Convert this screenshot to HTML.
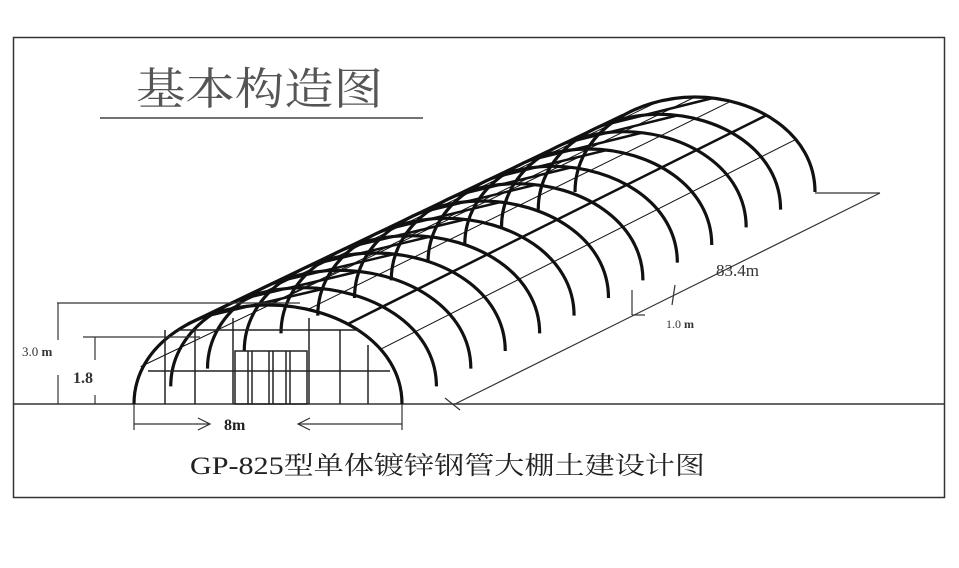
<!DOCTYPE html>
<html><head><meta charset="utf-8"><style>
body{margin:0;background:#fff;width:959px;height:568px;overflow:hidden}
svg{display:block}
text{font-family:"Liberation Serif","Noto Serif CJK SC",serif}
</style></head><body>
<svg id="s" width="959" height="568" viewBox="0 0 959 568" xmlns="http://www.w3.org/2000/svg">
<rect x="13.5" y="37.5" width="931" height="460" fill="none" stroke="#333" stroke-width="1.5"/>
<text x="136" y="104" font-size="44" fill="#555" textLength="247" lengthAdjust="spacingAndGlyphs">基本构造图</text>
<line x1="100" y1="118" x2="423" y2="118" stroke="#444" stroke-width="1.5"/>
<line x1="14" y1="404" x2="944" y2="404" stroke="#333" stroke-width="1.5"/>
<g id="g" fill="none" stroke="#111"></g>
<g stroke="#222" stroke-width="1.5" fill="none">
<line x1="178" y1="330" x2="360" y2="330"/>
<line x1="148" y1="371" x2="390" y2="371"/>
<line x1="165" y1="330" x2="165" y2="404"/>
<line x1="195" y1="330" x2="195" y2="404"/>
<line x1="233" y1="318" x2="233" y2="404"/>
<line x1="309" y1="318" x2="309" y2="404"/>
<line x1="340" y1="330" x2="340" y2="404"/>
<line x1="368" y1="345" x2="368" y2="404"/>
<rect x="235" y="351" width="72" height="53"/>
<line x1="248" y1="351" x2="248" y2="404"/><line x1="252" y1="351" x2="252" y2="404"/>
<line x1="269" y1="351" x2="269" y2="404"/><line x1="273" y1="351" x2="273" y2="404"/>
<line x1="286" y1="351" x2="286" y2="404"/><line x1="290" y1="351" x2="290" y2="404"/>
</g>
<g stroke="#333" stroke-width="1.2" fill="none">
<line x1="57" y1="303" x2="300" y2="303"/>
<line x1="58" y1="303" x2="58" y2="340"/><line x1="58" y1="375" x2="58" y2="404"/>
<line x1="83" y1="337" x2="200" y2="337"/>
<line x1="95" y1="337" x2="95" y2="360"/><line x1="95" y1="395" x2="95" y2="404"/>
<line x1="134" y1="404" x2="134" y2="430"/><line x1="402" y1="404" x2="402" y2="430"/>
<line x1="134" y1="424" x2="210" y2="424"/><polyline points="198,418 210,424 198,430"/>
<line x1="298" y1="424" x2="402" y2="424"/><polyline points="310,418 298,424 310,430"/>
<line x1="455" y1="404" x2="880" y2="193"/>
<line x1="815" y1="193" x2="880" y2="193"/>
<line x1="445" y1="398" x2="460" y2="410"/>
<line x1="632" y1="290" x2="632" y2="315"/><line x1="632" y1="315" x2="645" y2="315"/>
<line x1="675" y1="285" x2="672" y2="305"/>
</g>
<text x="22" y="356" font-size="13" fill="#333" font-family="Liberation Sans">3.0 <tspan font-weight="bold">m</tspan></text>
<text x="73" y="383" font-size="16" font-weight="bold" fill="#333">1.8</text>
<text x="224" y="430" font-size="16" font-weight="bold" fill="#222">8m</text>
<text x="716" y="276" font-size="17" fill="#333">83.4m</text>
<text x="666" y="328" font-size="12" fill="#333" font-family="Liberation Sans">1.0 <tspan font-weight="bold">m</tspan></text>
<text x="190" y="474" font-size="25" fill="#222" textLength="515" lengthAdjust="spacingAndGlyphs">GP-825型单体镀锌钢管大棚土建设计图</text>
</svg>
<script>
var g=document.getElementById('g'),h='';
function P(t){return {cx:268+427*t,b:404-212*t,w:134-14*t,h:99-4*t};}
function arch(a){return 'M'+(a.cx-a.w)+','+a.b+' C'+(a.cx-a.w)+','+(a.b-a.h*0.62)+' '+(a.cx-a.w*0.5)+','+(a.b-a.h)+' '+a.cx+','+(a.b-a.h)+' C'+(a.cx+a.w*0.5)+','+(a.b-a.h)+' '+(a.cx+a.w)+','+(a.b-a.h*0.62)+' '+(a.cx+a.w)+','+a.b;}
for(var i=0;i<=12;i++){var a=P(i/12);h+='<path d="'+arch(a)+'" stroke-width="3.2"/>';}
var angs=[-0.95,-0.6,-0.3,0,0.3,0.6,0.85];
var A=P(0),B=P(1);
function pt(a,u){var x=a.cx+a.w*u;var y=a.b-a.h*Math.sqrt(Math.max(0,1-u*u*0.95));return [x,y];}
angs.forEach(function(u){var p=pt(A,u),q=pt(B,u);h+='<line x1="'+p[0]+'" y1="'+p[1]+'" x2="'+q[0]+'" y2="'+q[1]+'" stroke-width="'+(Math.abs(u)==0.6?2.5:1)+'"/>';});
for(var i=0;i<12;i++){var a=P(i/12),c=P((i+1)/12);var p=pt(a,-0.5),q=pt(c,0.15);h+='<line x1="'+p[0]+'" y1="'+p[1]+'" x2="'+q[0]+'" y2="'+q[1]+'" stroke-width="2.5"/>';}
g.innerHTML=h;
</script>
</body></html>
